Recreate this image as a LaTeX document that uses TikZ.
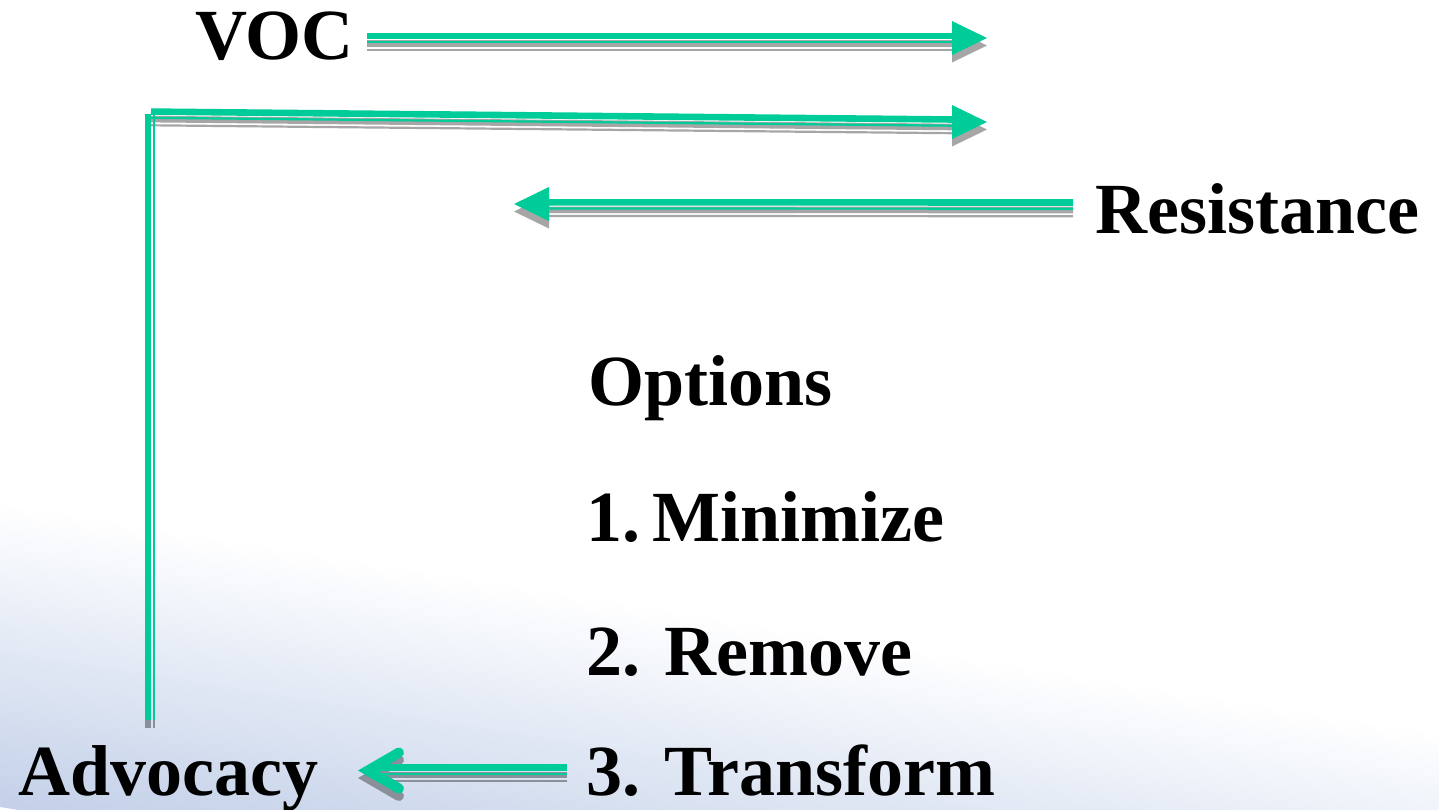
\documentclass[tikz,border=0pt]{standalone}
\usepackage{fontspec}
\setmainfont{Liberation Serif}
\usetikzlibrary{calc}
\definecolor{arrowgreen}{RGB}{0,204,153}
\definecolor{shadowgrey}{RGB}{166,166,166}
\definecolor{shadowdark}{RGB}{138,144,154}
\definecolor{bgblue}{RGB}{196,209,233}
\tikzset{
  lbl/.style={anchor=base west, inner sep=0pt, font=\fontsize{36}{40}\selectfont\bfseries},
  thickpart/.style={line width=3.3pt, line cap=butt},
  thinpart/.style={line width=1.1pt, line cap=butt},
}
% all connectors, drawn once as shadow and once in green
\newcommand\drawarrows[2]{%
  % VOC arrow
  \draw[#1, thickpart] ([yshift=1pt]vocS) -- ([yshift=1pt]vocB);
  \draw[#1, thinpart] ([yshift=-2.1pt]vocS) -- ([yshift=-2.1pt]vocB);
  \fill[#1] (vocE) -- ++(-35,-17) -- ++(0,34) -- cycle;
  % corner arrow
  \draw[#1, thickpart] ([yshift=1pt]cS) -- ([yshift=1pt]cB);
  \draw[#1, thinpart] ([yshift=-2.1pt]cS) -- ([yshift=-2.1pt]cB);
  \fill[#1] (cE) -- ++(-35,-17) -- ++(0,34) -- cycle;
  % resistance arrow
  \draw[#1, thickpart] ([yshift=1pt]rS) -- ([yshift=1pt]rB);
  \draw[#1, thinpart] ([yshift=-2.1pt]rS) -- ([yshift=-2.1pt]rB);
  \fill[#1] (rE) -- ++(35,-17) -- ++(0,34) -- cycle;
  % vertical line from advocacy
  \draw[#2, line width=3pt, line cap=butt] ([xshift=-1pt]vB) -- ([xshift=-1pt]vT);
  \draw[#2, line width=1.15pt, line cap=butt] ([xshift=2pt]vB) -- ([xshift=2pt]vT);
  % transform -> advocacy arrow
  \draw[#2, thickpart] ([yshift=1pt]aS) -- ([yshift=1pt]aB);
  \draw[#2, thinpart] ([yshift=-2.1pt]aS) -- ([yshift=-2.1pt]aB);
  \draw[#2, line width=5pt, line cap=round, line join=miter] ($(aE)+(31,-18)$) -- (aE) -- ++(31,18);
}
\begin{document}
\begin{tikzpicture}[x=0.5pt, y=-0.5pt]
\useasboundingbox (0,0) rectangle (1439,809);
% background
\fill[white] (0,0) rectangle (1439,809);
\begin{scope}
  \clip (0,0) rectangle (1439,809);
  \foreach \i in {0,...,50} {
    \pgfmathsetmacro\p{2*\i}
    \fill[bgblue!\p!white] (0,{500+6*\i}) -- (1439,{730+6*\i}) -- (1439,{737+6*\i}) -- (0,{507+6*\i}) -- cycle;
  }
\end{scope}

% texts
\node[lbl] (voc) at (195,59.5) {VOC};
\node[lbl] (res) at (1095,233) {Resistance};
\node[lbl] (opt) at (588,405) {Options};
\node[lbl] (min) at (586,541) {1.\hspace{6pt}Minimize};
\node[lbl] (rem) at (586,675) {2. Remove};
\node[lbl] (tra) at (586,795) {3. Transform};
\node[lbl] (adv) at (18,795) {Advocacy};

% connector end points
\coordinate (vocS) at (367,38);
\coordinate (vocB) at (953,38);
\coordinate (vocE) at (987,38);
\coordinate (cS) at (151,113.6);
\coordinate (cB) at (953,121.5);
\coordinate (cE) at (987,122);
\coordinate (rS) at (1073,204.5);
\coordinate (rB) at (547,204.3);
\coordinate (rE) at (514,204);
\coordinate (vT) at (150,114);
\coordinate (vB) at (150,720);
\coordinate (aS) at (567,769.5);
\coordinate (aB) at (374,769.5);
\coordinate (aE) at (368,770.5);

% shadows
\begin{scope}[transform canvas={yshift=-3.75pt}]
  \drawarrows{shadowgrey}{shadowdark}
\end{scope}
% arrows
\drawarrows{arrowgreen}{arrowgreen}
\end{tikzpicture}
\end{document}
